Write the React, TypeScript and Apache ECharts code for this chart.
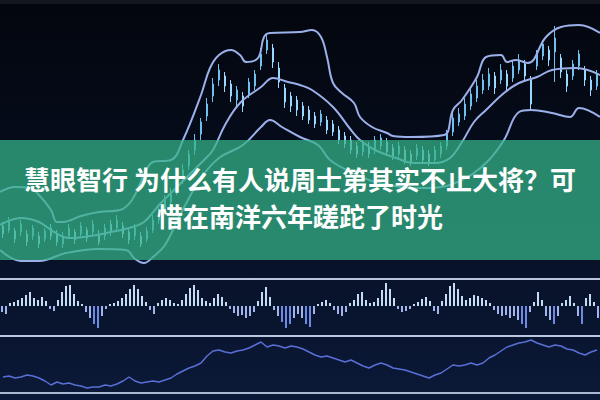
import React, { useEffect, useRef } from "react";
import * as echarts from "echarts";

// Candles: [open, close, low, high] (price units on an inverted scale)
const candles: number[][] = [
  [226,234,222,238],[230,221,217,233],[231,239,228,243],[232,224,220,236],[234,242,230,246],
  [236,228,225,240],[236,244,232,248],[239,231,228,242],[228,236,224,240],[234,242,230,246],
  [244,236,232,248],[236,228,224,238],[232,240,229,244],[234,226,222,238],[230,238,227,242],
  [232,224,220,235],[234,242,230,245],[236,228,224,240],[224,232,220,236],[228,220,215,231],
  [226,234,222,238],[232,240,228,244],[236,228,224,240],[236,244,232,247],[239,231,227,242],
  [230,220,215,233],[220,210,205,224],[210,200,195,214],[202,194,188,206],[190,180,175,195],
  [180,170,164,184],[166,154,150,170],[150,140,134,155],[134,122,118,140],[116,104,98,121],
  [96,84,78,102],[80,70,64,86],[76,86,72,92],[84,96,80,102],[100,90,86,106],
  [96,106,92,112],[94,82,78,98],[86,74,70,90],[66,54,48,70],[50,40,34,54],
  [48,62,44,68],[68,82,62,88],[88,102,84,108],[96,106,92,112],[100,110,96,116],
  [106,116,102,120],[110,120,106,124],[116,124,112,128],[122,114,110,126],[120,130,116,134],
  [124,132,120,136],[130,140,126,144],[136,144,132,148],[140,150,136,154],[146,154,142,158],
  [152,144,140,156],[146,154,142,158],[150,140,136,154],[146,138,134,150],[142,152,138,156],
  [148,156,144,160],[154,146,142,158],[150,160,146,164],[154,162,150,166],[156,148,144,160],
  [150,160,146,164],[154,162,150,166],[160,150,146,164],[154,146,142,158],[146,134,130,150],
  [132,118,112,136],[122,114,108,126],[116,104,98,120],[106,94,88,110],[98,86,80,102],
  [90,80,74,94],[86,74,68,90],[76,88,72,94],[80,70,64,84],[74,86,70,92],
  [78,66,60,82],[70,60,54,74],[64,76,60,80],[80,104,76,110],[66,54,50,70],
  [56,44,40,60],[50,60,46,66],[52,38,26,82],[58,72,54,78],[74,86,70,92],
  [76,64,60,80],[66,54,50,70],[70,80,66,86],[80,90,76,96],[86,74,70,90]
];
const candleDays = candles.map((_, i) => "D" + (i + 1));

// Bollinger bands: [day index, price]
const upperBand: number[][] = [
  [-0.5,192],[2,187],[4.5,188],[6,195],[8,210],[9,222],[10,222],[13,216],[16,212],[19.5,210],
  [21.5,200],[23.5,175],[25,162],[28,160],[30,140],[33,95],[34.5,68],[36,55],[38,50],[39.5,55],
  [40.5,62],[42.5,58],[43.5,37],[44.5,33],[49.5,32],[51.5,30],[53,37],[54,57],[55,83],[56.5,93],
  [58.5,103],[59.5,117],[61.5,127],[64,133],[65,136],[68,137],[73.5,135],[75,110],[76.5,100],[79,77],
  [80.5,57],[83,55],[84,62],[85.5,60],[87.5,63],[90.5,37],[93,27],[96,25],[99.5,33]
];
const middleBand: number[][] = [
  [-0.5,225],[3,218],[6,222],[8.5,232],[11,238],[14.5,236],[18,232],[21,228],[23.5,222],[26,205],
  [28.5,190],[31,175],[33.5,160],[35,150],[37,125],[39.5,103],[43,87],[45,78],[47.5,82],[49.5,85],
  [51.5,90],[55,107],[58,130],[59.5,140],[62,150],[65.5,158],[68.5,163],[72,163],[74.5,158],[76.5,142],
  [78.5,122],[80.5,110],[83.5,93],[86,83],[89,77],[91.5,70],[95.5,68],[99.5,75]
];
const lowerBand: number[][] = [
  [-0.5,250],[3,261],[6,261],[10.5,253],[16,249],[20.5,250],[22,259],[23.5,263],[25,257],[27,245],
  [29.5,215],[33,178],[36,158],[40,145],[43,127],[44.5,120],[46.5,127],[49.5,137],[52.5,145],[54.5,160],
  [58,172],[61,180],[64.5,185],[68,188],[71,188],[74.5,185],[78,175],[81,160],[83.5,140],[86,112],
  [88,110],[91.5,113],[94.5,117],[96,108],[99.5,117]
];

// Oscillator histogram
const histValues: number[] = [
  -6,-8,3,4,6,8,11,14,8,6,9,5,-3,-5,6,14,20,21,12,5,
  2,-6,-12,-18,-22,-10,-3,2,3,5,8,12,17,21,17,10,4,-4,-8,3,
  6,8,6,3,2,6,12,18,21,16,8,5,3,8,12,9,4,-3,-7,-10,
  -9,-12,-10,-6,5,14,19,9,-4,-10,-16,-22,-18,-12,-8,-12,-18,-21,-8,2,
  4,6,3,-4,-8,-10,-6,3,6,12,14,6,3,4,8,16,23,17,8,-3,
  -6,-5,-3,2,4,7,9,5,-5,-8,5,12,20,23,17,10,6,8,11,10,
  8,6,3,-4,-8,-10,-9,-12,-10,-14,-18,-22,-6,4,14,6,-10,-14,-18,-10,
  3,6,10,3,-10,-18,8,12,4,-12
];
const histIdx = histValues.map((_, i) => "B" + (i + 1));

// Lower indicator line
const indicator: number[] = [
  16,17,15,16,18,17,15,12,8,11,9,10,8,7,5,6,6,8,7,9,
  12,16,12,10,11,12,11,13,15,19,22,25,27,30,37,42,43,41,40,42,
  43,45,48,51,46,48,47,45,47,46,44,41,38,36,37,35,33,31,33,30,
  27,25,28,30,28,25,24,23,21,19,17,15,18,20,24,28,27,28,30,28,
  30,35,38,42,46,48,50,51,53,50,48,46,48,47,44,43,40,38,41,43
];

const titleLines = ["慧眼智行 为什么有人说周士第其实不止大将？可", "惜在南洋六年蹉跎了时光"];

export default function App() {
  const ref = useRef<HTMLDivElement>(null);
  useEffect(() => {
    if (!ref.current) return;
    const chart = echarts.init(ref.current, null, { renderer: "svg" });
    const bandStyle = { color: "#9cb0ea", width: 2 };
    const divider = (y: number, color: any) => ({
      type: "line",
      z: 50,
      shape: { x1: 0, y1: y, x2: 600, y2: y },
      style: { stroke: color, lineWidth: 2 },
    });
    const title = (text: string, y: number) => ({
      type: "text",
      z: 101,
      x: 300,
      y,
      style: {
        text,
        fill: "#ffffff",
        font: "bold 26px 'Noto Sans CJK SC'",
        textAlign: "center",
        textVerticalAlign: "middle",
      },
    });
    chart.setOption({
      animation: false,
      backgroundColor: new echarts.graphic.LinearGradient(0, 0, 0, 1, [
        { offset: 0, color: "#03060d" },
        { offset: 0.4, color: "#060c1c" },
        { offset: 1, color: "#0b1938" },
      ]),
      grid: [
        { left: 0, right: 0, top: 0, height: 275 },
        { left: 0, right: 0, top: 281, height: 52 },
        { left: 0, right: 0, top: 337, height: 56 },
      ],
      xAxis: [
        { type: "category", data: candleDays, gridIndex: 0, show: false, boundaryGap: true },
        { type: "value", gridIndex: 0, min: -0.5, max: 99.5, show: false },
        { type: "category", data: histIdx, gridIndex: 1, show: false },
        { type: "category", data: candleDays, gridIndex: 2, show: false },
      ],
      yAxis: [
        { type: "value", gridIndex: 0, min: 0, max: 275, inverse: true, show: false },
        { type: "value", gridIndex: 1, min: -27, max: 25, show: false },
        { type: "value", gridIndex: 2, min: 0, max: 56, show: false },
      ],
      series: [
        {
          type: "candlestick",
          xAxisIndex: 0,
          yAxisIndex: 0,
          data: candles,
          barWidth: 2,
          itemStyle: {
            color: "#9ad8ff",
            color0: "#6fc0ec",
            borderColor: "#9ad8ff",
            borderColor0: "#6fc0ec",
            borderWidth: 1,
          },
        },
        { type: "line", xAxisIndex: 1, yAxisIndex: 0, data: upperBand, smooth: 0.4, showSymbol: false, lineStyle: bandStyle },
        { type: "line", xAxisIndex: 1, yAxisIndex: 0, data: middleBand, smooth: 0.4, showSymbol: false, lineStyle: bandStyle },
        { type: "line", xAxisIndex: 1, yAxisIndex: 0, data: lowerBand, smooth: 0.4, showSymbol: false, lineStyle: bandStyle },
        {
          type: "bar",
          xAxisIndex: 2,
          yAxisIndex: 1,
          data: histValues,
          barWidth: 2,
          itemStyle: {
            color: (p: any) =>
              p.value >= 0 ? "#c6dcf2" : p.value < -15 ? "#6f8ae6" : "#a2b3ee",
          },
        },
        {
          type: "line",
          xAxisIndex: 3,
          yAxisIndex: 2,
          data: indicator,
          showSymbol: false,
          lineStyle: { color: "#5a6fd6", width: 1.5 },
        },
      ],
      graphic: [
        { type: "rect", z: 50, shape: { x: 0, y: 0, width: 600, height: 4 }, style: { fill: "#12161e" } },
        divider(5.5, new echarts.graphic.LinearGradient(0, 0, 1, 0, [
          { offset: 0, color: "#50579a" },
          { offset: 0.35, color: "#5a6096" },
          { offset: 0.4, color: "#8f9cb0" },
          { offset: 1, color: "#9fb0c2" },
        ])),
        divider(279, "#b9c6dc"),
        divider(336, "#b9c6dc"),
        divider(393, "#a9b8d2"),
        {
          type: "rect",
          z: 100,
          shape: { x: 0, y: 140, width: 600, height: 120 },
          style: { fill: "rgba(52,180,136,0.74)" },
        },
        title(titleLines[0], 178),
        title(titleLines[1], 215),
      ],
    });
    return () => chart.dispose();
  }, []);
  return <div ref={ref} style={{ width: 600, height: 400, position: "fixed", left: 0, top: 0 }} />;
}
